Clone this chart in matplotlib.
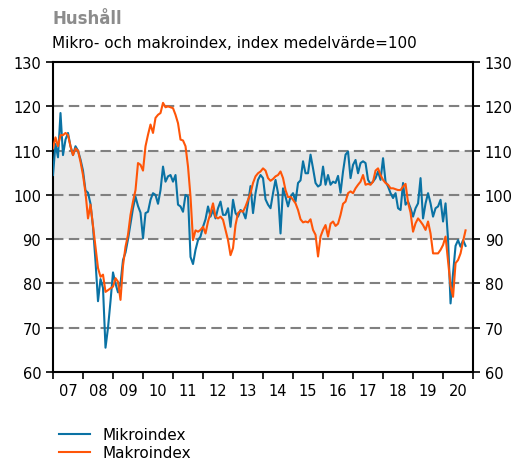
import numpy as np
import matplotlib
matplotlib.use("Agg")
import matplotlib.pyplot as plt
from matplotlib.lines import Line2D

# monthly values, Jan 2007 .. Oct 2020
mikro = [
    104.5, 111.5, 108.5, 118.5, 109.0, 112.5, 114.0, 111.0, 109.0, 111.0, 110.0, 108.0,   # 2007
    105.5, 101.0, 100.5, 98.0, 92.8, 85.0, 76.0, 81.0, 79.0, 65.5, 70.0, 76.0,            # 2008
    82.5, 80.0, 78.0, 80.0, 85.3, 87.0, 90.0, 93.5, 97.0, 99.6, 97.5, 96.0,               # 2009
    90.2, 95.9, 96.2, 98.9, 100.4, 100.0, 98.0, 101.1, 106.4, 103.0, 104.2, 104.5,        # 2010
    103.0, 104.5, 97.8, 97.4, 96.2, 100.0, 99.6, 86.0, 84.4, 87.6, 89.8, 90.6,            # 2011
    92.8, 94.5, 97.4, 95.1, 96.6, 94.7, 97.0, 98.5, 95.5, 95.5, 97.0, 92.8,               # 2012
    98.9, 95.9, 95.1, 96.6, 96.2, 94.7, 98.1, 102.0, 95.9, 100.4, 103.4, 104.5,           # 2013
    103.8, 99.0, 97.8, 97.0, 100.4, 103.4, 100.4, 91.3, 101.5, 99.6, 97.4, 99.6,          # 2014
    100.4, 98.5, 102.7, 103.3, 107.6, 104.9, 104.9, 109.1, 106.0, 102.7, 101.9, 102.3,    # 2015
    106.4, 102.3, 104.5, 102.3, 103.0, 102.7, 104.3, 100.5, 105.3, 109.1, 109.8, 103.8,   # 2016
    106.8, 107.9, 104.9, 107.2, 107.6, 107.2, 103.4, 102.5, 103.0, 103.8, 105.3, 103.4,   # 2017
    108.3, 103.0, 101.9, 100.4, 99.3, 100.4, 97.0, 96.6, 102.7, 97.8, 98.5, 97.0,         # 2018
    95.1, 97.0, 98.1, 103.8, 94.7, 98.1, 100.4, 98.1, 95.1, 97.0, 97.4, 98.9,             # 2019
    94.0, 98.1, 90.0, 75.5, 82.3, 88.5, 89.8, 88.3, 89.8, 88.5,                           # 2020
]
makro = [
    110.5, 113.0, 111.0, 113.5, 113.5, 114.0, 113.5, 111.0, 109.0, 110.5, 110.0, 107.5,   # 2007
    104.5, 100.5, 94.7, 97.8, 93.0, 88.0, 83.5, 81.5, 82.0, 78.1, 78.5, 78.9,             # 2008
    79.3, 81.2, 80.4, 76.3, 84.0, 88.3, 91.0, 95.5, 98.5, 101.1, 107.2, 106.8,            # 2009
    105.5, 111.0, 113.6, 115.9, 114.0, 117.4, 118.1, 118.5, 120.8, 119.8, 120.0, 119.8,   # 2010
    119.6, 118.1, 116.2, 112.5, 112.3, 111.0, 106.4, 99.6, 89.8, 92.0, 91.7, 92.1,        # 2011
    92.8, 91.3, 94.0, 95.9, 98.1, 95.1, 94.7, 95.1, 94.4, 92.1, 89.8, 86.4,               # 2012
    88.0, 93.2, 95.9, 96.4, 96.2, 97.4, 98.9, 100.4, 102.7, 104.2, 104.9, 105.3,          # 2013
    106.0, 105.5, 103.8, 103.2, 103.6, 104.2, 104.5, 105.3, 103.8, 101.1, 99.5, 99.6,     # 2014
    98.9, 98.1, 96.6, 94.5, 93.8, 94.0, 93.8, 94.5, 92.1, 91.0, 86.1, 90.6,               # 2015
    92.1, 93.2, 90.6, 93.5, 94.0, 93.0, 93.5, 95.5, 98.0, 98.5, 100.4, 100.8,             # 2016
    100.4, 101.5, 102.3, 103.0, 104.5, 102.3, 102.5, 102.3, 103.0, 105.5, 106.0, 104.5,   # 2017
    103.4, 102.7, 102.3, 101.5, 101.5, 101.3, 101.1, 101.1, 101.9, 102.5, 98.3, 96.0,     # 2018
    91.7, 93.6, 94.7, 94.0, 93.2, 92.1, 94.0, 91.3, 86.8, 86.8, 86.8, 87.6,               # 2019
    88.7, 90.6, 85.0, 79.5, 77.0, 84.6, 85.3, 86.8, 89.5, 92.0,                           # 2020
]
years = list(range(2007, 2021))
year_labels = [f"{y % 100:02d}" for y in years]
y_ticks = [60, 70, 80, 90, 100, 110, 120, 130]
grid_levels = [70, 80, 90, 100, 110, 120]

BLUE = "#0a72a4"
ORANGE = "#ff5508"

t = 2007 + np.arange(len(mikro)) / 12.0

fig = plt.figure(figsize=(5.17, 4.64), dpi=100)
ax = fig.add_axes([0.1025, 0.196, 0.8125, 0.668])

ax.axhspan(90, 110, color="#e8e8e8", zorder=0, lw=0)
for g in grid_levels:
    ax.axhline(g, color="#808080", lw=1.5, ls=(0, (5, 2.6)), zorder=1)

ax.plot(t, mikro, color=BLUE, lw=1.5, zorder=3)
ax.plot(t, makro, color=ORANGE, lw=1.5, zorder=4)

ax.set_xlim(2007, 2021)
ax.set_ylim(60, 130)
ax.set_yticks(y_ticks)
ax.set_xticks(range(2007, 2022))
ax.set_xticklabels([])
ax.set_xticks([y + 0.5 for y in years], minor=True)
ax.set_xticklabels(year_labels, minor=True)
ax.tick_params(axis="x", which="minor", length=0, labelsize=10.5, pad=8)
ax.tick_params(axis="x", which="major", length=5, width=1.2, direction="out")
ax.tick_params(axis="y", length=5, width=1.2, direction="out", labelsize=10.5,
               left=True, right=True, labelleft=True, labelright=True)
for s in ax.spines.values():
    s.set_linewidth(1.5)
    s.set_color("black")

fig.text(0.101, 0.958, "Hushåll", fontsize=12, fontweight="bold", color="#8c8c8c",
         va="center", ha="left")
fig.text(0.101, 0.907, "Mikro- och makroindex, index medelvärde=100", fontsize=11,
         color="black", va="center", ha="left")

handles = [Line2D([], [], color=BLUE, lw=1.5), Line2D([], [], color=ORANGE, lw=1.5)]
fig.legend(handles, ["Mikroindex", "Makroindex"], loc="lower left",
           bbox_to_anchor=(0.088, -0.024), frameon=False, fontsize=11,
           handlelength=2.0, labelspacing=0.22, handletextpad=0.8)

fig.savefig("out.png", dpi=100)
